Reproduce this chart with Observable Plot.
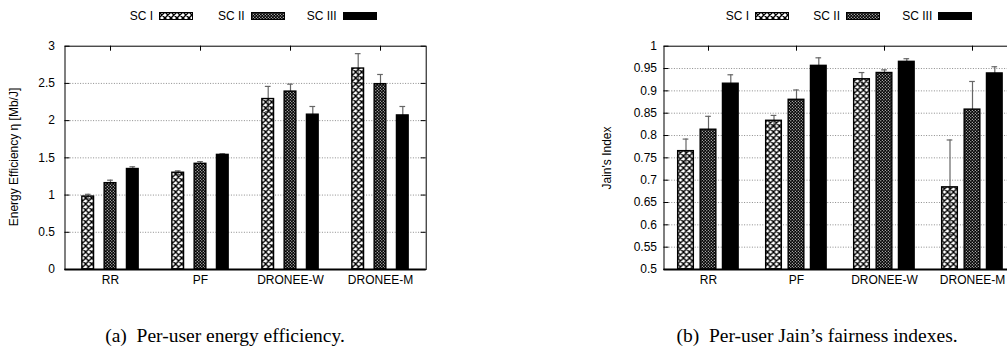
<!DOCTYPE html>
<html><head><meta charset="utf-8">
<script src="https://cdn.jsdelivr.net/npm/d3@7"></script>
<script src="https://cdn.jsdelivr.net/npm/@observablehq/plot@0.6"></script>
<style>
html,body{margin:0;padding:0;background:#fff;overflow:hidden;width:1007px;height:347px}
#root{position:relative;width:1007px;height:347px;overflow:hidden;font-family:"Liberation Sans",Arial,sans-serif;color:#000}
.ylab{position:absolute;font-size:12px;white-space:nowrap;transform:translate(-50%,-50%) rotate(-90deg)}
.legtxt{position:absolute;font-size:12px;white-space:nowrap;transform:translate(-100%,-50%)}
.cap{position:absolute;font-family:"Liberation Serif","Times New Roman",serif;font-size:19.5px;line-height:20px;white-space:pre;transform:translateX(-50%)}
</style></head><body>
<svg width="0" height="0" style="position:absolute">
  <defs>
    <pattern id="patSC1" patternUnits="userSpaceOnUse" width="6" height="6">
      <path d="M0,0L6,6M6,0L0,6M-1,1L1,-1M5,7L7,5M-1,5L1,7M5,-1L7,1" stroke="#000" stroke-width="1.4" fill="none"/>
    </pattern>
    <pattern id="patSC2" patternUnits="userSpaceOnUse" width="3" height="3">
      <rect width="3" height="3" fill="#000"/>
      <rect x="0.3" y="0.3" width="1" height="1" fill="#fff"/>
      <rect x="1.8" y="1.8" width="1" height="1" fill="#fff"/>
    </pattern>
  </defs>
</svg>
<div id="root"></div>
<script>
// ---- data ----
const categories = ["RR", "PF", "DRONEE-W", "DRONEE-M"];
const series = ["SC I", "SC II", "SC III"];

// (a) Per-user energy efficiency [Mb/J]
const effSC1 = [0.98, 1.30, 2.29, 2.70];
const effSC2 = [1.16, 1.42, 2.39, 2.49];
const effSC3 = [1.35, 1.54, 2.08, 2.07];
const effErrSC1 = [0.03, 0.025, 0.17, 0.20];
const effErrSC2 = [0.04, 0.03, 0.10, 0.13];
const effErrSC3 = [0.03, 0.015, 0.11, 0.12];
const effTicks = [0, 0.5, 1, 1.5, 2, 2.5, 3];

// (b) Per-user Jain's fairness index
const jainSC1 = [0.765, 0.833, 0.926, 0.684];
const jainSC2 = [0.813, 0.880, 0.940, 0.858];
const jainSC3 = [0.916, 0.956, 0.965, 0.939];
const jainErrSC1 = [0.027, 0.012, 0.015, 0.106];
const jainErrSC2 = [0.030, 0.022, 0.007, 0.063];
const jainErrSC3 = [0.020, 0.018, 0.007, 0.015];
const jainTicks = [0.5, 0.55, 0.6, 0.65, 0.7, 0.75, 0.8, 0.85, 0.9, 0.95, 1];

const patterns = ["url(#patSC1)", "url(#patSC2)", "#000"];

const root = document.getElementById("root");

function chart(o) {
  const rows = [];
  series.forEach((s, i) => categories.forEach((c, j) =>
    rows.push({cat: c, series: s, v: o.mean[i][j], e: o.err[i][j]})));
  const plotW = o.width - o.ml - o.mr, plotH = o.height - o.mt - o.mb;
  const bw = plotW / categories.length;
  const inset = (bw - o.barW) / 2;
  const capInset = bw / 2 - 3;
  const y0 = o.ticks[0];
  const marks = [
    Plot.ruleY(o.ticks.slice(1, -1), {stroke: "#8c8c8c", strokeDasharray: "1,1.6", strokeWidth: 1})
  ];
  const perSeries = series.map(s => rows.filter(r => r.series === s));
  perSeries.forEach((d, i) => marks.push(
    Plot.barY(d, {x: "cat", y1: y0, y2: "v", fill: "white", insetLeft: inset, insetRight: inset, dx: o.offsets[i]})));
  perSeries.forEach((d, i) => {
    marks.push(Plot.ruleX(d, {x: "cat", y1: r => r.v - r.e, y2: r => r.v + r.e, stroke: "#666", strokeWidth: 1.2, dx: o.offsets[i]}));
    marks.push(Plot.tickY(d, {x: "cat", y: r => r.v + r.e, stroke: "#666", strokeWidth: 1.2, insetLeft: capInset, insetRight: capInset, dx: o.offsets[i]}));
    marks.push(Plot.tickY(d, {x: "cat", y: r => r.v - r.e, stroke: "#666", strokeWidth: 1.2, insetLeft: capInset, insetRight: capInset, dx: o.offsets[i]}));
  });
  perSeries.forEach((d, i) => marks.push(
    Plot.barY(d, {x: "cat", y1: y0, y2: "v", fill: "series", stroke: "#000", strokeWidth: 1.4, insetLeft: inset, insetRight: inset, dx: o.offsets[i]})));
  marks.push(
    Plot.ruleY(o.ticks, {stroke: "#000", insetRight: plotW - 5}),
    Plot.ruleY(o.ticks, {stroke: "#000", insetLeft: plotW - 5}),
    Plot.ruleX(categories, {stroke: "#000", insetBottom: plotH - 5}),
    Plot.frame({stroke: "#000", strokeWidth: 1}),
    Plot.ruleY([y0], {stroke: "#000", strokeWidth: 2}),
    Plot.axisY(o.ticks, {tickSize: 0, tickPadding: o.tickPad, tickFormat: d => String(d), label: null}),
    Plot.axisX({tickSize: 0, tickPadding: 6, label: null})
  );
  const svg = Plot.plot({
    width: o.width, height: o.height,
    marginLeft: o.ml, marginRight: o.mr, marginTop: o.mt, marginBottom: o.mb,
    style: {fontSize: "12px", fontFamily: '"Liberation Sans", Arial, sans-serif', color: "#000", background: "transparent", overflow: "visible"},
    x: {type: "band", domain: categories, padding: 0, label: null},
    y: {domain: [o.ticks[0], o.ticks[o.ticks.length - 1]], label: null},
    color: {domain: series, range: patterns},
    marks
  });
  svg.style.position = "absolute";
  svg.style.left = o.left + "px";
  svg.style.top = "0px";
  root.appendChild(svg);

  // legend
  series.forEach((s, i) => {
    const sx = o.legendX[i];
    const t = document.createElement("div");
    t.className = "legtxt";
    t.textContent = s;
    t.style.left = (sx - 6) + "px";
    t.style.top = "16px";
    root.appendChild(t);
    const sw = document.createElementNS("http://www.w3.org/2000/svg", "svg");
    sw.setAttribute("width", 35); sw.setAttribute("height", 9);
    sw.style.position = "absolute"; sw.style.left = sx + "px"; sw.style.top = "12px";
    sw.innerHTML = `<rect x="0.5" y="0.5" width="33" height="7" fill="#fff"/><rect x="0.5" y="0.5" width="33" height="7" fill="${patterns[i]}" stroke="#000" stroke-width="1"/>`;
    root.appendChild(sw);
  });

  const yl = document.createElement("div");
  yl.className = "ylab";
  yl.textContent = o.ylabel;
  yl.style.left = o.ylabX + "px";
  yl.style.top = o.ylabY + "px";
  root.appendChild(yl);

  const cap = document.createElement("div");
  cap.className = "cap";
  cap.textContent = o.caption;
  cap.style.left = o.capX + "px";
  cap.style.top = "326px";
  root.appendChild(cap);
}

chart({
  left: 0, width: 440, height: 290, ml: 64.5, mr: 14.3, mt: 45.7, mb: 21,
  ticks: effTicks, mean: [effSC1, effSC2, effSC3], err: [effErrSC1, effErrSC2, effErrSC3],
  barW: 12, offsets: [-22.3, 0, 22.3], tickPad: 10,
  legendX: [159, 250.7, 342.7],
  ylabel: "Energy Efficiency η [Mb/J]", ylabX: 14, ylabY: 157,
  caption: "(a)  Per-user energy efficiency.", capX: 225
});

chart({
  left: 580, width: 451, height: 290, ml: 83.5, mr: 14.2, mt: 45.7, mb: 21,
  ticks: jainTicks, mean: [jainSC1, jainSC2, jainSC3], err: [jainErrSC1, jainErrSC2, jainErrSC3],
  barW: 16, offsets: [-22.5, 0, 22.3], tickPad: 7,
  legendX: [755, 846, 938.3],
  ylabel: "Jain's Index", ylabX: 607, ylabY: 158,
  caption: "(b)  Per-user Jain\u2019s fairness indexes.", capX: 817
});
</script>
</body></html>
